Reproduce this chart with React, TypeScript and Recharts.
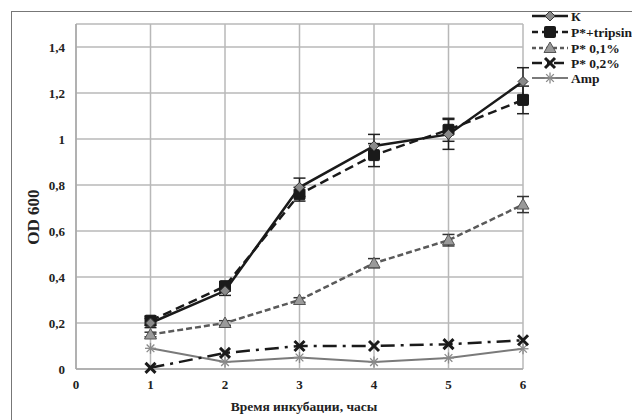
import React from 'react';
import { LineChart, Line, XAxis, YAxis, CartesianGrid, ErrorBar } from 'recharts';

const hours = [1, 2, 3, 4, 5, 6];
const kValues = [0.2, 0.34, 0.79, 0.97, 1.02, 1.25];
const kErr = [0.02, 0.02, 0.04, 0.05, 0.065, 0.06];
const tripsinValues = [0.21, 0.36, 0.76, 0.93, 1.04, 1.17];
const tripsinErr = [0.02, 0.02, 0.03, 0.05, 0.05, 0.06];
const p01Values = [0.15, 0.2, 0.3, 0.46, 0.56, 0.715];
const p01Err = [0.01, 0.01, 0.01, 0.02, 0.025, 0.035];
const p02Values = [0.005, 0.07, 0.1, 0.1, 0.108, 0.125];
const ampValues = [0.09, 0.03, 0.05, 0.03, 0.048, 0.088];

const xTicks = [0, 1, 2, 3, 4, 5, 6];
const yTicks = [0, 0.2, 0.4, 0.6, 0.8, 1, 1.2, 1.4];

const seriesNames = ['К', 'P*+tripsin', 'P* 0,1%', 'P* 0,2%', 'Amp'];

const data = hours.map((h, i) => ({
  h,
  k: kValues[i],
  kErr: kErr[i],
  tr: tripsinValues[i],
  trErr: tripsinErr[i],
  p01: p01Values[i],
  p01Err: p01Err[i],
  p02: p02Values[i],
  amp: ampValues[i],
}));

const FONT = '"Liberation Serif", "Times New Roman", serif';

type Shape = 'diamond' | 'square' | 'triangle' | 'x' | 'star';

function Marker({ shape, cx, cy }: { shape: Shape; cx: number; cy: number }) {
  if (shape === 'diamond') {
    const s = 5;
    return <polygon points={`${cx},${cy - s} ${cx + s},${cy} ${cx},${cy + s} ${cx - s},${cy}`} fill="#8a8a8a" stroke="#333" strokeWidth={1} />;
  }
  if (shape === 'square') {
    const s = 5.5;
    return <rect x={cx - s} y={cy - s} width={2 * s} height={2 * s} fill="#1a1a1a" stroke="#1a1a1a" strokeWidth={1} rx={1} />;
  }
  if (shape === 'triangle') {
    const s = 6;
    return <polygon points={`${cx},${cy - s} ${cx + s},${cy + s * 0.75} ${cx - s},${cy + s * 0.75}`} fill="#9a9a9a" stroke="#555" strokeWidth={1} />;
  }
  if (shape === 'x') {
    const s = 5;
    return (
      <g stroke="#1a1a1a" strokeWidth={3}>
        <line x1={cx - s} y1={cy - s} x2={cx + s} y2={cy + s} />
        <line x1={cx - s} y1={cy + s} x2={cx + s} y2={cy - s} />
      </g>
    );
  }
  const s = 5.5;
  return (
    <g stroke="#8a8a8a" strokeWidth={1.3}>
      <line x1={cx - s} y1={cy} x2={cx + s} y2={cy} />
      <line x1={cx - s * 0.7} y1={cy - s * 0.7} x2={cx + s * 0.7} y2={cy + s * 0.7} />
      <line x1={cx - s * 0.7} y1={cy + s * 0.7} x2={cx + s * 0.7} y2={cy - s * 0.7} />
      <line x1={cx} y1={cy - s} x2={cx} y2={cy + s} />
    </g>
  );
}

const makeDot = (shape: Shape) => (props: any) => {
  const { cx, cy, index } = props;
  if (cx == null || cy == null) return <g key={index} />;
  return <Marker key={`${shape}-${index}`} shape={shape} cx={cx} cy={cy} />;
};

const series = [
  { key: 'k', name: seriesNames[0], stroke: '#1a1a1a', width: 2.5, dash: undefined as string | undefined, shape: 'diamond' as Shape },
  { key: 'tr', name: seriesNames[1], stroke: '#1a1a1a', width: 2.5, dash: '6 4', shape: 'square' as Shape },
  { key: 'p01', name: seriesNames[2], stroke: '#5a5a5a', width: 2.5, dash: '4 3', shape: 'triangle' as Shape },
  { key: 'p02', name: seriesNames[3], stroke: '#1a1a1a', width: 2.5, dash: '10 5 2 5', shape: 'x' as Shape },
  { key: 'amp', name: seriesNames[4], stroke: '#7a7a7a', width: 2, dash: undefined as string | undefined, shape: 'star' as Shape },
];

function LegendBox() {
  const rows = [16, 32, 48, 63, 78];
  return (
    <svg width={110} height={90} style={{ position: 'absolute', left: 530, top: 0, overflow: 'visible' }}>
      {series.map((s, i) => {
        const y = rows[i];
        return (
          <g key={s.key}>
            <line x1={2} y1={y} x2={38} y2={y} stroke={s.stroke} strokeWidth={s.width} strokeDasharray={s.dash} />
            <Marker shape={s.shape} cx={20} cy={y} />
            <text x={41} y={y} dominantBaseline="central" fontFamily={FONT} fontWeight="bold" fontSize={13.5} fill="#1a1a1a">{s.name}</text>
          </g>
        );
      })}
    </svg>
  );
}

export default function App() {
  return (
    <div style={{ position: 'absolute', left: 0, top: 0, width: 632, height: 420, background: '#fff', overflow: 'hidden' }}>
      <div style={{ position: 'absolute', left: 11, top: 11, width: 660, height: 460, border: '1.5px solid #777' }} />
      <div style={{ position: 'absolute', left: 0, top: 0 }}>
        <LineChart width={632} height={420} data={data} margin={{ top: 24, right: 109, bottom: 0, left: 0 }}>
          <CartesianGrid horizontal={true} vertical={true} stroke="#b8b8b8" strokeWidth={1.5} />
          <XAxis
            dataKey="h"
            type="number"
            domain={[0, 6]}
            ticks={xTicks}
            height={51}
            axisLine={{ stroke: '#a8a8a8', strokeWidth: 1.5 }}
            tickLine={false}
            tickSize={6}
            tickMargin={5}
            tick={{ fontFamily: FONT, fontWeight: 'bold', fontSize: 13, fill: '#222' }}
            label={{
              content: () => (
                <text x={304} y={406} textAnchor="middle" dominantBaseline="central" fontFamily={FONT} fontWeight="bold" fontSize={13.5} fill="#222">Время  инкубации, часы</text>
              ),
            }}
          />
          <YAxis
            type="number"
            domain={[0, 1.5]}
            ticks={yTicks}
            width={76}
            axisLine={{ stroke: '#a8a8a8', strokeWidth: 1.5 }}
            tickLine={false}
            tickSize={6}
            tickMargin={5}
            tickFormatter={(v: number) => String(Number(v.toFixed(1))).replace('.', ',')}
            tick={{ fontFamily: FONT, fontWeight: 'bold', fontSize: 13, fill: '#222' }}
            label={{
              content: () => (
                <text x={33} y={217} transform="rotate(-90 33 217)" textAnchor="middle" dominantBaseline="central" fontFamily={FONT} fontWeight="bold" fontSize={17} fill="#222">OD 600</text>
              ),
            }}
          />
          <Line dataKey="amp" name={seriesNames[4]} stroke="#7a7a7a" strokeWidth={2} dot={makeDot('star')} isAnimationActive={false} />
          <Line dataKey="p02" name={seriesNames[3]} stroke="#1a1a1a" strokeWidth={2.5} strokeDasharray="14 6 3 6" dot={makeDot('x')} isAnimationActive={false} />
          <Line dataKey="p01" name={seriesNames[2]} stroke="#5a5a5a" strokeWidth={2.5} strokeDasharray="6 3" dot={makeDot('triangle')} isAnimationActive={false}>
            <ErrorBar dataKey="p01Err" direction="y" width={6} stroke="#333" strokeWidth={1.5} />
          </Line>
          <Line dataKey="tr" name={seriesNames[1]} stroke="#1a1a1a" strokeWidth={2.5} strokeDasharray="9 5" dot={makeDot('square')} isAnimationActive={false}>
            <ErrorBar dataKey="trErr" direction="y" width={6} stroke="#222" strokeWidth={1.5} />
          </Line>
          <Line dataKey="k" name={seriesNames[0]} stroke="#1a1a1a" strokeWidth={2.5} dot={makeDot('diamond')} isAnimationActive={false}>
            <ErrorBar dataKey="kErr" direction="y" width={6} stroke="#222" strokeWidth={1.5} />
          </Line>
        </LineChart>
      </div>
      <LegendBox />
    </div>
  );
}
